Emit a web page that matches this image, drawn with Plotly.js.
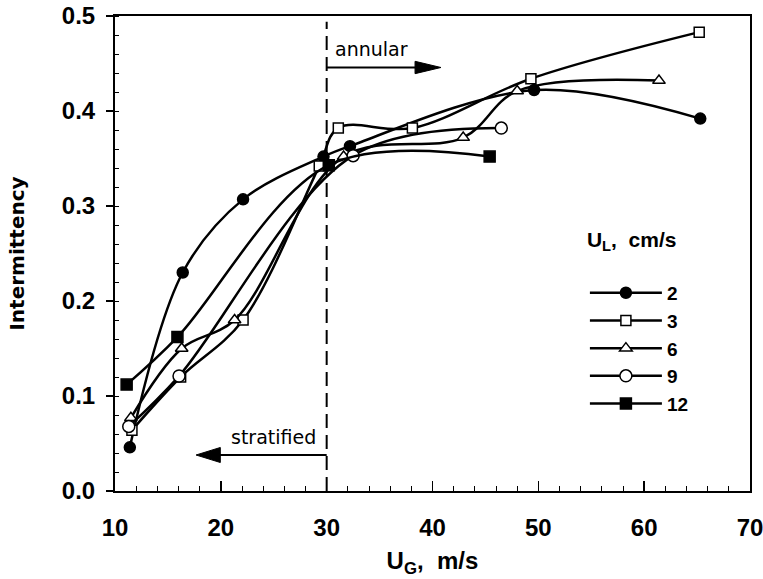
<!DOCTYPE html>
<html>
<head>
<meta charset="utf-8">
<script src="https://cdn.plot.ly/plotly-3.0.1.min.js"></script>
<style>html,body{margin:0;padding:0;background:#fff;}#chart{width:763px;height:579px;}</style>
</head>
<body>
<div id="chart"></div>
<script>
// Data
const seriesNames = ['2', '3', '6', '9', '12'];
const ug2 = [11.4, 16.4, 22.1, 29.7, 32.2, 49.6, 65.3];
const int2 = [0.046, 0.23, 0.307, 0.352, 0.363, 0.422, 0.392];
const ug3 = [11.6, 16.2, 22.1, 29.3, 31.1, 38.1, 49.3, 65.2];
const int3 = [0.064, 0.12, 0.18, 0.342, 0.382, 0.382, 0.434, 0.483];
const ug6 = [11.5, 16.3, 21.3, 31.6, 42.9, 48.0, 61.4];
const int6 = [0.077, 0.150, 0.180, 0.352, 0.372, 0.421, 0.432];
const ug9 = [11.3, 16.05, 32.5, 46.5];
const int9 = [0.068, 0.121, 0.353, 0.382];
const ug12 = [11.1, 15.9, 30.2, 45.4];
const int12 = [0.112, 0.162, 0.343, 0.352];

const xTicks = [10, 20, 30, 40, 50, 60, 70];
const yTicks = [0.0, 0.1, 0.2, 0.3, 0.4, 0.5];
const regimeBoundary = 30;

const xs = [ug2, ug3, ug6, ug9, ug12];
const ys = [int2, int3, int6, int9, int12];
const symbols = ['circle', 'square', 'triangle-up', 'circle', 'square'];
const fills = ['#000', '#fff', '#fff', '#fff', '#000'];
const sizes = [11, 10, 11, 12, 11];

const traces = xs.map((x, i) => ({
  type: 'scatter',
  mode: 'lines+markers',
  name: seriesNames[i],
  x: x,
  y: ys[i],
  line: {color: '#000', width: 2.5, shape: 'spline', smoothing: 1},
  marker: {symbol: symbols[i], size: sizes[i], color: fills[i],
           line: {color: '#000', width: 1.5}},
  cliponaxis: false
}));

const F = 'Liberation Sans, Arial, sans-serif';

const layout = {
  width: 763, height: 579,
  margin: {l: 115, r: 13, t: 16, b: 88},
  paper_bgcolor: '#fff', plot_bgcolor: '#fff',
  showlegend: true,
  font: {family: F, color: '#000'},
  xaxis: {
    range: [10, 70], tickvals: xTicks, ticktext: xTicks.map(String),
    showgrid: false, zeroline: false,
    showline: true, linecolor: '#000', linewidth: 2, mirror: true,
    ticks: 'inside', ticklen: 10, tickwidth: 1.5, tickcolor: '#000',
    minor: {dtick: 2, ticks: 'inside', ticklen: 5, tickwidth: 1, tickcolor: '#000'},
    ticklabelstandoff: 14, ticklabeloverflow: 'allow',
    tickfont: {family: F, size: 24, weight: 'bold'},
    title: {text: 'U<sub>G</sub>,  m/s', font: {family: F, size: 24, weight: 'bold'}, standoff: 12}
  },
  yaxis: {
    range: [0, 0.5], tickvals: yTicks, ticktext: yTicks.map(v => v.toFixed(1)),
    showgrid: false, zeroline: false,
    showline: true, linecolor: '#000', linewidth: 2, mirror: true,
    ticks: 'outside', ticklen: 7, tickwidth: 1.5, tickcolor: '#000',
    minor: {dtick: 0.02, ticks: 'inside', ticklen: 4, tickwidth: 1, tickcolor: '#000'},
    ticklabelstandoff: 6, ticklabeloverflow: 'allow',
    tickfont: {family: F, size: 24, weight: 'bold'},
    title: {text: 'Intermittency', font: {family: 'DejaVu Sans, sans-serif', size: 20, weight: 'bold'}, standoff: 32}
  },
  legend: {
    x: 0.74, y: 0.572, xanchor: 'left', yanchor: 'top',
    bgcolor: 'rgba(0,0,0,0)', borderwidth: 0,
    font: {family: F, size: 19, weight: 'bold'},
    title: {text: 'U<sub>L</sub>,  cm/s<br> ', font: {family: F, size: 21, weight: 'bold'}},
    itemwidth: 72, tracegroupgap: 0
  },
  shapes: [
    {type: 'line', xref: 'x', yref: 'y', x0: regimeBoundary, x1: regimeBoundary, y0: 0, y1: 0.494,
     line: {color: '#000', width: 2, dash: '14px,7px'}},
    // annular arrow
    {type: 'line', xref: 'x', yref: 'y', x0: regimeBoundary, x1: 38.6, y0: 0.4458, y1: 0.4458,
     line: {color: '#000', width: 2}},
    {type: 'path', xref: 'x', yref: 'y', path: 'M38.35,0.4393 L40.8,0.4458 L38.35,0.4523 Z',
     fillcolor: '#000', line: {color: '#000', width: 1}},
    // stratified arrow
    {type: 'line', xref: 'x', yref: 'y', x0: regimeBoundary, x1: 19.7, y0: 0.0379, y1: 0.0379,
     line: {color: '#000', width: 2}},
    {type: 'path', xref: 'x', yref: 'y', path: 'M19.95,0.0300 L17.66,0.0379 L19.95,0.0458 Z',
     fillcolor: '#000', line: {color: '#000', width: 1}}
  ],
  annotations: [
    {xref: 'x', yref: 'y', x: 34.24, y: 0.465, text: 'annular', showarrow: false,
     font: {family: 'DejaVu Sans, sans-serif', size: 19, color: '#000'}},
    {xref: 'x', yref: 'y', x: 24.98, y: 0.057, text: 'stratified', showarrow: false,
     font: {family: 'DejaVu Sans, sans-serif', size: 19, color: '#000'}}
  ]
};

Plotly.newPlot('chart', traces, layout, {displayModeBar: false, staticPlot: true});
</script>
</body>
</html>
